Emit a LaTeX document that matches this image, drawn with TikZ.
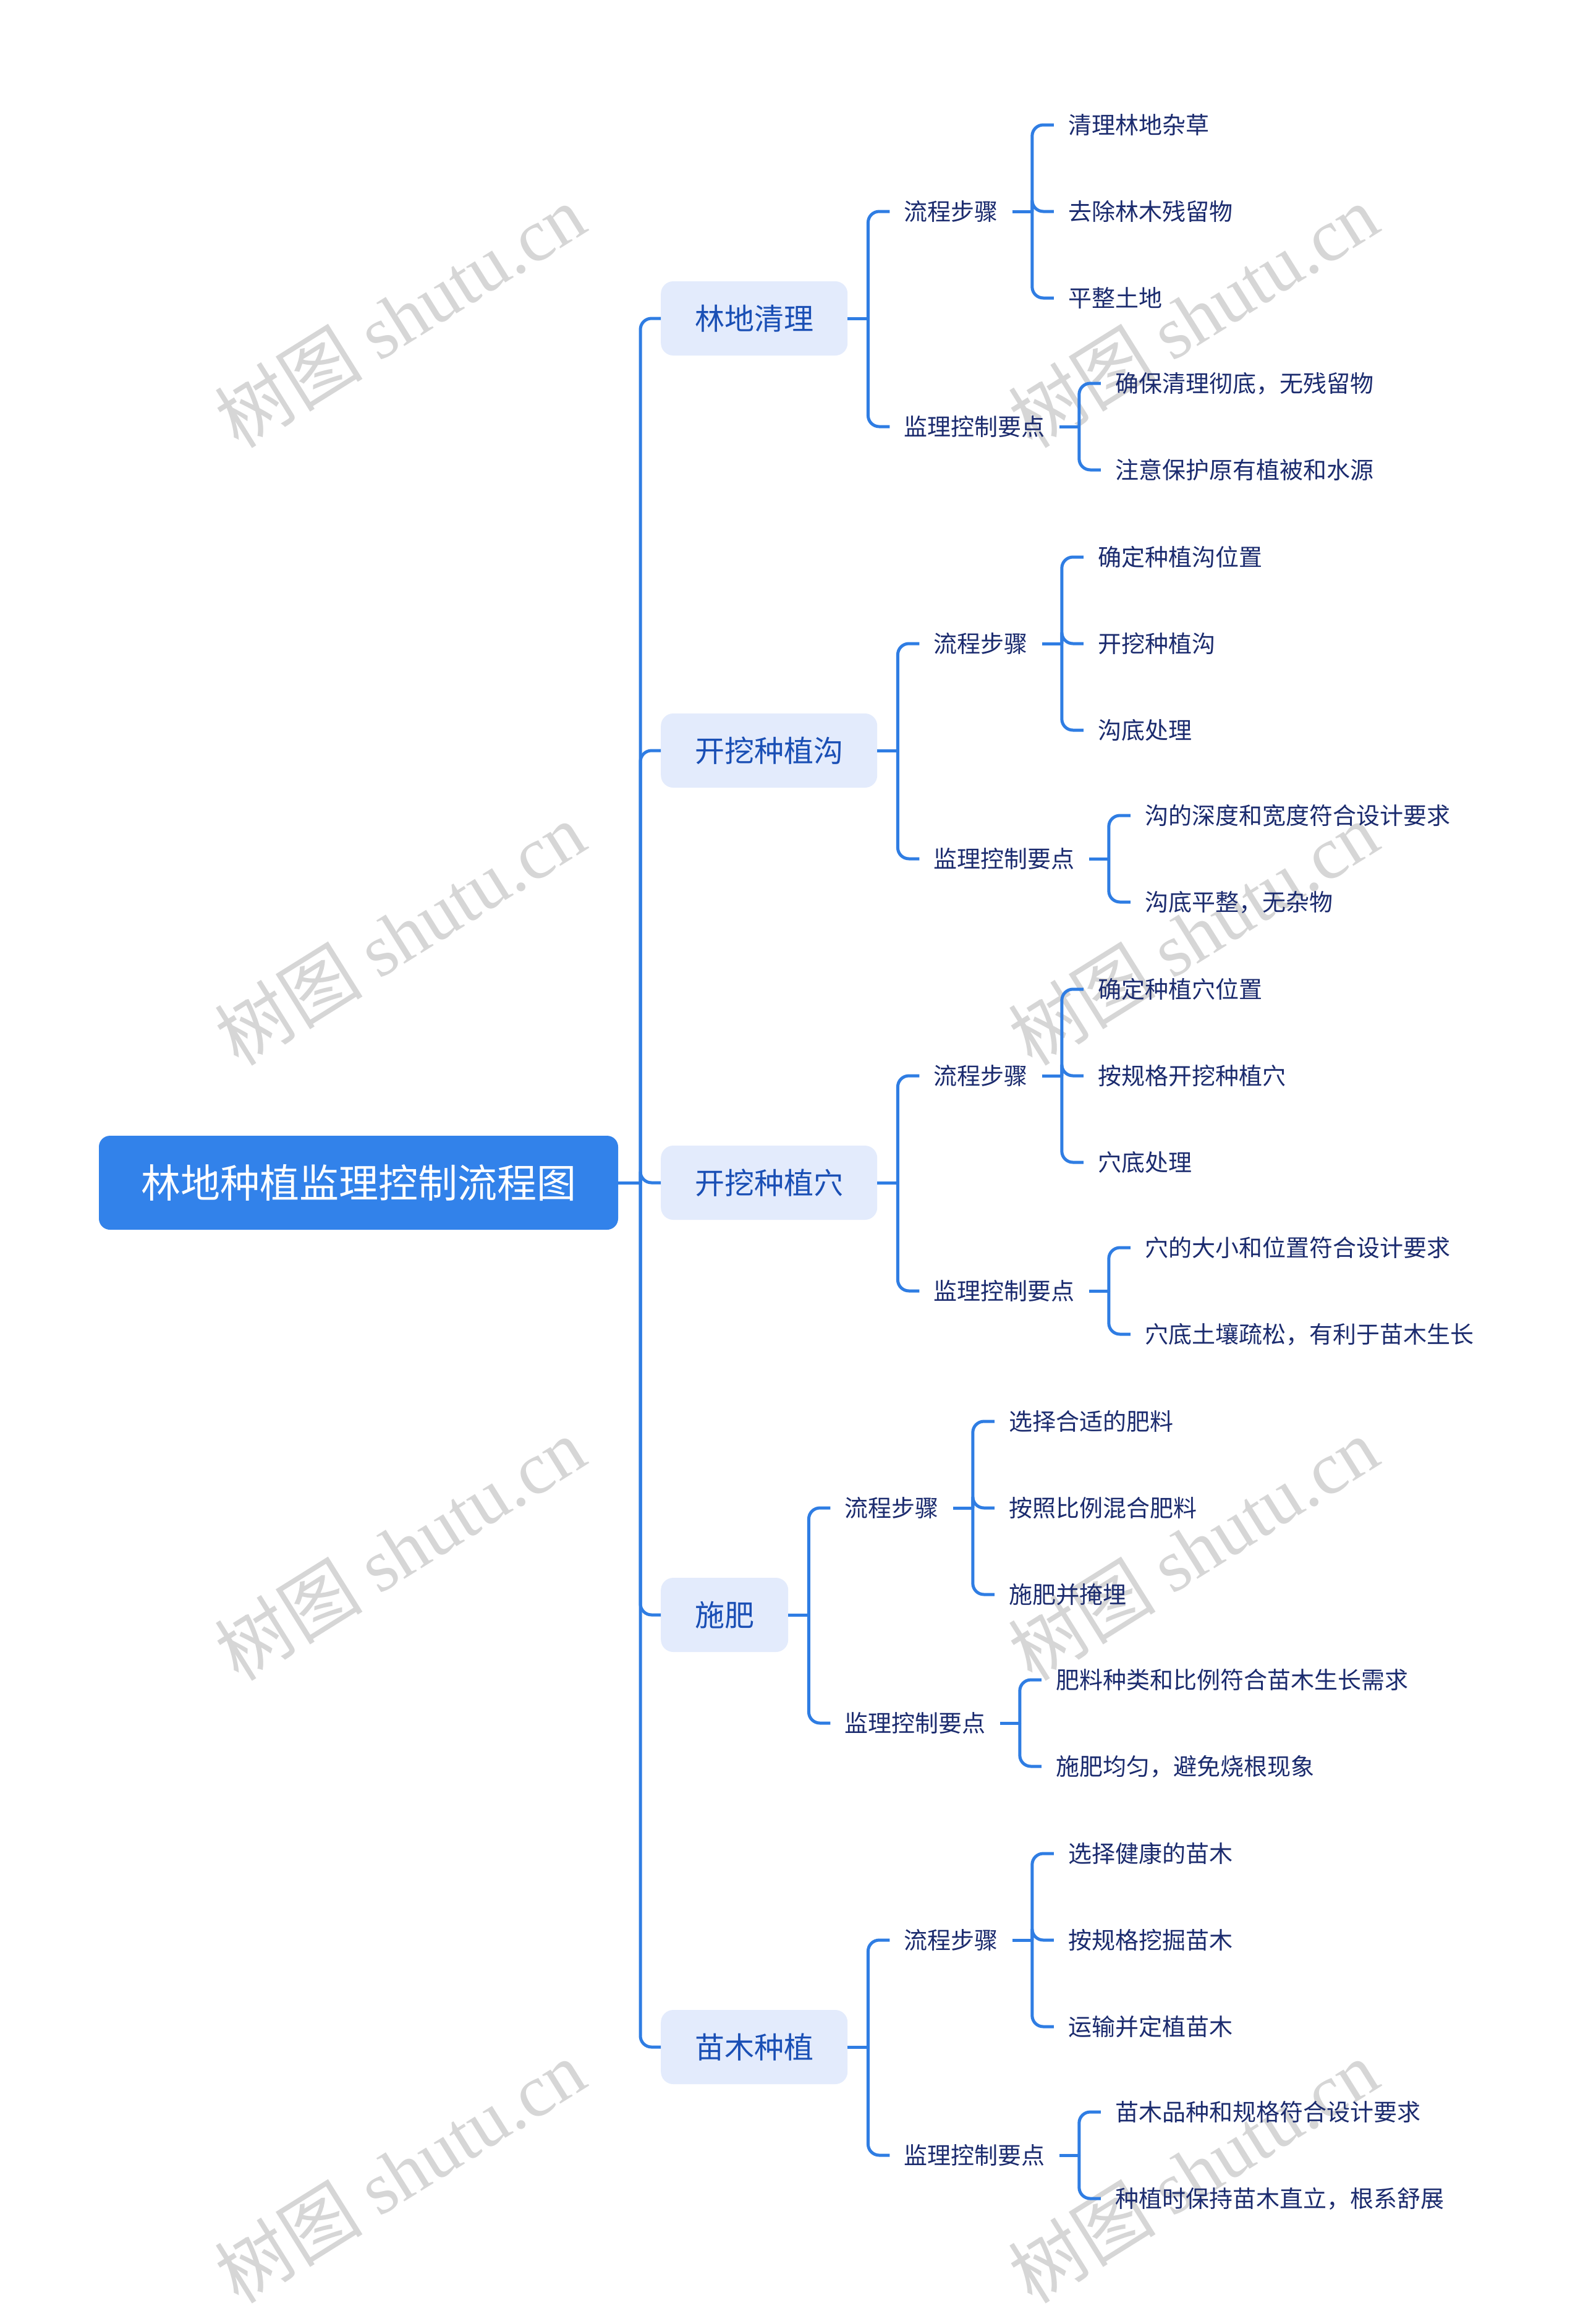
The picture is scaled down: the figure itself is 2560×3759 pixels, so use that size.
\documentclass[tikz,border=0pt]{standalone}
\usepackage{fontspec}
\setmainfont{Noto Sans CJK SC}
\newfontfamily\wmlatin{Liberation Serif}
\usetikzlibrary{calc}
\definecolor{linec}{HTML}{2F7DE3}
\definecolor{rootc}{HTML}{3282EA}
\definecolor{lonefill}{HTML}{E3EBFC}
\definecolor{lonetext}{HTML}{1A4FB5}
\definecolor{leaftext}{HTML}{1B2B6E}
\definecolor{wmc}{HTML}{D6D6D6}
\tikzset{
  conn/.style={draw=linec, line width=5pt, rounded corners=18pt},
  rootbox/.style={fill=rootc, rounded corners=18pt, text=white,
    font=\fontsize{64pt}{64pt}\selectfont, minimum height=152pt, inner xsep=68pt,
    text height=53pt, text depth=4.5pt},
  lonebox/.style={fill=lonefill, rounded corners=20pt, text=lonetext, anchor=west,
    font=\fontsize{48pt}{48pt}\selectfont, minimum height=120pt, inner xsep=55pt,
    text height=39.8pt, text depth=3.4pt},
  txt/.style={text=leaftext, anchor=west, font=\fontsize{38pt}{38pt}\selectfont,
    inner xsep=23pt, inner ysep=0pt, text height=31.5pt, text depth=2.7pt},
  wm/.style={text=wmc, rotate=32, font=\fontsize{120pt}{120pt}\selectfont}
}
\newcommand\mygroup[8]{%
  \node[lonebox] (#1) at (1069,#2) {#3};
  \draw[conn] (T) |- (#1.west);
  \coordinate (#1-b) at ($(#1.east)+(33,0)$);
  \draw[conn] (#1.east) -- (#1-b);
  \node[txt] (#1-s) at ($(#1-b)+(35,-173)$) {流程步骤};
  \node[txt] (#1-p) at ($(#1-b)+(35,175)$) {监理控制要点};
  \draw[conn] (#1-b) |- (#1-s.west);
  \draw[conn] (#1-b) |- (#1-p.west);
  \coordinate (#1-sb) at ($(#1-s.east)+(32,0)$);
  \draw[conn] (#1-s.east) -- (#1-sb);
  \node[txt] (#1-s1) at ($(#1-sb)+(35,-140)$) {#4};
  \node[txt] (#1-s2) at ($(#1-sb)+(35,0)$) {#5};
  \node[txt] (#1-s3) at ($(#1-sb)+(35,140)$) {#6};
  \draw[conn] (#1-sb) |- (#1-s1.west);
  \draw[conn] (#1-sb) |- (#1-s2.west);
  \draw[conn] (#1-sb) |- (#1-s3.west);
  \coordinate (#1-pb) at ($(#1-p.east)+(32,0)$);
  \draw[conn] (#1-p.east) -- (#1-pb);
  \node[txt] (#1-p1) at ($(#1-pb)+(35,-70)$) {#7};
  \node[txt] (#1-p2) at ($(#1-pb)+(35,70)$) {#8};
  \draw[conn] (#1-pb) |- (#1-p1.west);
  \draw[conn] (#1-pb) |- (#1-p2.west);
}
\begin{document}
\begin{tikzpicture}[x=1pt, y=-1pt]
\useasboundingbox (0,0) rectangle (2560,3759);
\fill[white] (0,0) rectangle (2560,3759);
% watermarks
\foreach \wx/\wy [count=\i] in {647/511, 647/1510, 647/2505, 647/3512, 1930/511, 1930/1510, 1930/2505, 1930/3512}{
  \node[wm] (wm\i) at (\wx,\wy) {树图 {\wmlatin shutu.cn}};
}
\node[rootbox] (root) at (580,1913) {林地种植监理控制流程图};
\coordinate (T) at (1036,1913);
\draw[conn] (root.east) -- (T);
\mygroup{ga}{515}{林地清理}{清理林地杂草}{去除林木残留物}{平整土地}{确保清理彻底，无残留物}{注意保护原有植被和水源}
\mygroup{gb}{1214}{开挖种植沟}{确定种植沟位置}{开挖种植沟}{沟底处理}{沟的深度和宽度符合设计要求}{沟底平整，无杂物}
\mygroup{gc}{1913}{开挖种植穴}{确定种植穴位置}{按规格开挖种植穴}{穴底处理}{穴的大小和位置符合设计要求}{穴底土壤疏松，有利于苗木生长}
\mygroup{gd}{2612}{施肥}{选择合适的肥料}{按照比例混合肥料}{施肥并掩埋}{肥料种类和比例符合苗木生长需求}{施肥均匀，避免烧根现象}
\mygroup{ge}{3311}{苗木种植}{选择健康的苗木}{按规格挖掘苗木}{运输并定植苗木}{苗木品种和规格符合设计要求}{种植时保持苗木直立，根系舒展}
\end{tikzpicture}
\end{document}
